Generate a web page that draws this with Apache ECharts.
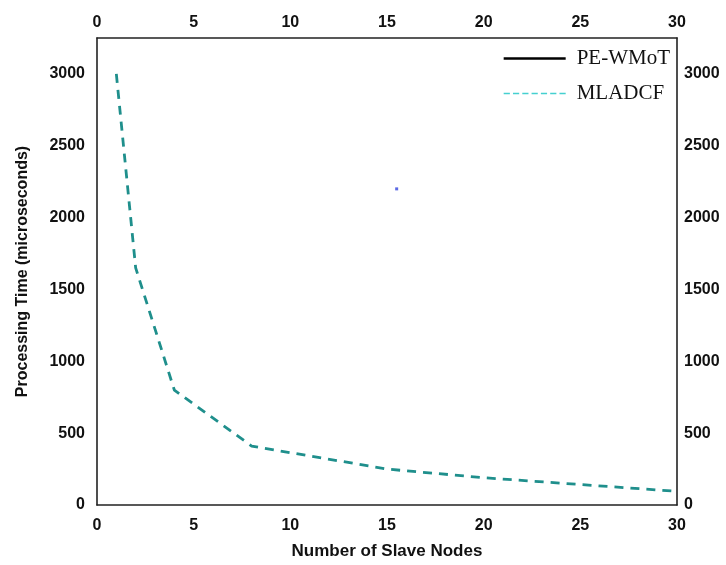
<!DOCTYPE html>
<html>
<head>
<meta charset="utf-8">
<script src="https://cdn.jsdelivr.net/npm/echarts@6/dist/echarts.min.js"></script>
<style>
html,body{margin:0;padding:0;background:#fff;}
#chart{width:726px;height:565px;}
</style>
</head>
<body>
<div id="chart"></div>
<script>
// Data
const seriesNames = ['PE-WMoT', 'MLADCF'];
const nodesMLADCF = [1, 2, 4, 8, 15, 20, 30];
const timeMLADCF = [3000, 1650, 800, 410, 250, 190, 95];
const nodesPEWMoT = [];
const timePEWMoT = [];
const strayPoint = [[15.5, 2200]];
const xTicks = [0, 5, 10, 15, 20, 25, 30];
const yTicks = [0, 500, 1000, 1500, 2000, 2500, 3000];

const chart = echarts.init(document.getElementById('chart'), null, {renderer: 'canvas'});
const labelFont = {fontFamily: 'Liberation Sans, Arial, sans-serif', fontWeight: 'bold', fontSize: 16, color: '#111'};
const axisLine = {show: true, onZero: false, lineStyle: {color: '#222', width: 1.6}};
const nameFont = {fontFamily: 'Liberation Sans, Arial, sans-serif', fontWeight: 'bold', color: '#111'};

const option = {
  backgroundColor: '#fff',
  animation: false,
  grid: {left: 97, right: 49, top: 38, bottom: 58, containLabel: false},
  legend: {
    orient: 'vertical',
    right: 51,
    top: 43,
    align: 'left',
    itemWidth: 62,
    itemHeight: 14,
    itemGap: 14,
    textStyle: {fontFamily: 'Liberation Serif, Times New Roman, serif', fontSize: 21, color: '#111', padding: [0, 0, 0, 6]},
    data: [
      {name: seriesNames[0], icon: 'path://M0,0 L62,0 L62,2.6 L0,2.6 Z', itemStyle: {color: '#000'}},
      {name: seriesNames[1], icon: 'path://M0,0 L6,0 L6,1.4 L0,1.4 Z M9,0 L15,0 L15,1.4 L9,1.4 Z M18,0 L24,0 L24,1.4 L18,1.4 Z M27,0 L33,0 L33,1.4 L27,1.4 Z M36,0 L42,0 L42,1.4 L36,1.4 Z M45,0 L51,0 L51,1.4 L45,1.4 Z M54,0 L60,0 L60,1.4 L54,1.4 Z', itemStyle: {color: '#45d0d0'}}
    ]
  },
  xAxis: [
    {
      type: 'value', position: 'bottom', min: 0, max: 30, interval: 5,
      axisLine: axisLine, axisTick: {show: false}, splitLine: {show: false},
      axisLabel: Object.assign({margin: 13, formatter: v => xTicks.includes(v) ? String(v) : ''}, labelFont),
      name: 'Number of Slave Nodes', nameLocation: 'middle', nameGap: 38,
      nameTextStyle: Object.assign({fontSize: 17}, nameFont)
    },
    {
      type: 'value', position: 'top', min: 0, max: 30, interval: 5,
      axisLine: axisLine, axisTick: {show: false}, splitLine: {show: false},
      axisLabel: Object.assign({margin: 7, formatter: v => xTicks.includes(v) ? String(v) : ''}, labelFont)
    }
  ],
  yAxis: [
    {
      type: 'value', position: 'left', min: 0, max: 3250, interval: 500,
      axisLine: axisLine, axisTick: {show: false}, splitLine: {show: false},
      axisLabel: Object.assign({margin: 12, showMaxLabel: false, formatter: v => yTicks.includes(v) ? String(v) : ''}, labelFont),
      name: 'Processing Time (microseconds)', nameLocation: 'middle', nameGap: 66, nameRotate: 90,
      nameTextStyle: Object.assign({fontSize: 16}, nameFont)
    },
    {
      type: 'value', position: 'right', min: 0, max: 3250, interval: 500,
      axisLine: axisLine, axisTick: {show: false}, splitLine: {show: false},
      axisLabel: Object.assign({margin: 7, showMaxLabel: false, formatter: v => yTicks.includes(v) ? String(v) : ''}, labelFont)
    }
  ],
  series: [
    {
      name: seriesNames[0], type: 'line', xAxisIndex: 0, yAxisIndex: 0,
      data: nodesPEWMoT.map((x, i) => [x, timePEWMoT[i]]),
      showSymbol: false, lineStyle: {color: '#000', width: 2.5}, itemStyle: {color: '#000'}
    },
    {
      name: seriesNames[1], type: 'line', xAxisIndex: 0, yAxisIndex: 0,
      data: nodesMLADCF.map((x, i) => [x, timeMLADCF[i]]),
      showSymbol: false, lineStyle: {color: '#1f8f8c', width: 2.8, type: [9, 7]}, itemStyle: {color: '#1f8f8c'}
    },
    {
      name: 'stray', type: 'scatter', xAxisIndex: 0, yAxisIndex: 0,
      data: strayPoint, symbol: 'rect', symbolSize: 3, itemStyle: {color: '#3344dd'}, silent: true
    }
  ]
};
chart.setOption(option);
</script>
</body>
</html>
